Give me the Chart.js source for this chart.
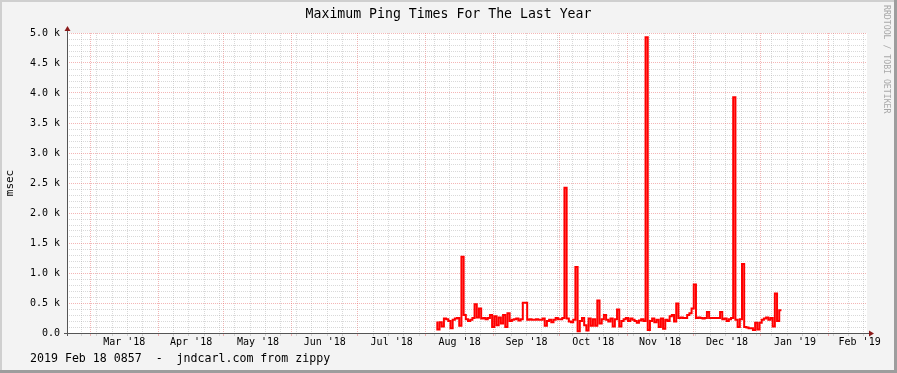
<!DOCTYPE html>
<html>
<head>
<meta charset="utf-8">
<script src="https://cdn.jsdelivr.net/npm/chart.js@4/dist/chart.umd.min.js"></script>
<style>
  html, body { margin: 0; padding: 0; background: #f3f3f3; }
  #wrap { width: 897px; height: 373px; }
</style>
</head>
<body>
<div id="wrap"><canvas id="chart" width="897" height="373"></canvas></div>
<script>
const title = "Maximum Ping Times For The Last Year";
const footer = "2019 Feb 18 0857  -  jndcarl.com from zippy";
const sideNote = "RRDTOOL / TOBI OETIKER";
const yLabel = "msec";

const DAY = 86400000;
const rangeStart = Date.UTC(2018, 1, 18, 8, 57);
const rangeEnd = Date.UTC(2019, 1, 18, 8, 57);
const firstSample = Date.UTC(2018, 7, 6, 8);

// daily maximum ping (msec), Aug 6 2018 onwards
const maxPing = [
  190, 60, 180, 110, 240, 230, 200, 80, 220, 240, 250, 120, 1270, 300, 230, 200, 220, 250, 480, 260,
  410, 240, 250, 230, 250, 300, 100, 280, 130, 260, 160, 300, 100, 330, 200, 220, 230, 240, 210, 230,
  505, 505, 220, 230, 220, 220, 230, 220, 220, 240, 120, 200, 220, 180, 220, 250, 230, 230, 250, 2420,
  240, 190, 180, 220, 1100, 30, 200, 250, 130, 40, 240, 120, 230, 120, 540, 160, 230, 300, 220, 190,
  240, 110, 230, 390, 110, 200, 230, 250, 200, 240, 220, 200, 170, 210, 230, 200, 4930, 50, 200, 240,
  180, 220, 100, 240, 70, 220, 200, 280, 300, 190, 490, 250, 260, 250, 250, 300, 330, 410, 810, 250,
  260, 250, 240, 250, 350, 250, 250, 250, 250, 250, 350, 230, 240, 200, 230, 250, 3930, 220, 100, 230,
  1150, 100, 90, 80, 80, 50, 170, 60, 170, 220, 240, 260, 220, 250, 110, 660, 200, 380,
];

const monthNames = ["Jan", "Feb", "Mar", "Apr", "May", "Jun", "Jul", "Aug", "Sep", "Oct", "Nov", "Dec"];
const yMax = 5000;
const yStep = 100;
const yMajor = 500;

const MONO = "'DejaVu Sans Mono', 'Liberation Mono', monospace";
const MINOR = "rgba(160, 160, 160, 0.4)";
const MAJOR = "rgba(230, 90, 90, 0.45)";

const points = maxPing.map((v, i) => ({ x: firstSample + i * DAY, y: v }));

const buildXTicks = () => {
  const ticks = [];
  // month boundaries and mid-month labels
  for (let m = 1; m <= 13; m++) {
    const start = Date.UTC(2018, m, 1);
    const next = Date.UTC(2018, m + 1, 1);
    const d = new Date(start);
    if (start > rangeStart && start < rangeEnd) ticks.push({ value: start, kind: "month" });
    const mid = (start + next) / 2;
    if (mid > rangeStart && mid < rangeEnd) {
      ticks.push({
        value: mid,
        kind: "label",
        text: monthNames[d.getUTCMonth()] + " '" + String(d.getUTCFullYear()).slice(2),
      });
    }
  }
  // weekly lines on Sundays
  for (let t = Date.UTC(2018, 1, 25); t < rangeEnd; t += 7 * DAY) {
    if (new Date(t).getUTCDate() !== 1) ticks.push({ value: t, kind: "week" });
  }
  return ticks.sort((a, b) => a.value - b.value);
};

const buildYTicks = () => {
  const ticks = [];
  for (let v = 0; v <= yMax; v += yStep) ticks.push({ value: v });
  return ticks;
};

const rrdFrame = {
  id: "rrdFrame",
  beforeDraw(chart) {
    const { ctx, chartArea: a, width, height } = chart;
    ctx.save();
    ctx.fillStyle = "#f3f3f3";
    ctx.fillRect(0, 0, width, height);
    ctx.fillStyle = "#cfcfcf";
    ctx.fillRect(0, 0, width, 2);
    ctx.fillRect(0, 0, 2, height);
    ctx.fillStyle = "#9d9d9d";
    ctx.fillRect(width - 3, 0, 3, height);
    ctx.fillRect(0, height - 3, width, 3);
    ctx.fillStyle = "#ffffff";
    ctx.fillRect(a.left, a.top, a.right - a.left, a.bottom - a.top);
    ctx.restore();
  },
  afterDraw(chart) {
    const { ctx, chartArea: a, width } = chart;
    ctx.save();
    // axes
    ctx.strokeStyle = "#555555";
    ctx.lineWidth = 1;
    ctx.beginPath();
    ctx.moveTo(a.left + 0.5, a.bottom + 3);
    ctx.lineTo(a.left + 0.5, a.top - 4);
    ctx.moveTo(a.left - 3, a.bottom + 0.5);
    ctx.lineTo(a.right + 3, a.bottom + 0.5);
    ctx.stroke();
    // arrows
    ctx.fillStyle = "#8b1a1a";
    ctx.beginPath();
    ctx.moveTo(a.left - 2.5, a.top - 2);
    ctx.lineTo(a.left + 3.5, a.top - 2);
    ctx.lineTo(a.left + 0.5, a.top - 7);
    ctx.closePath();
    ctx.fill();
    ctx.beginPath();
    ctx.moveTo(a.right + 2, a.bottom - 2.5);
    ctx.lineTo(a.right + 2, a.bottom + 3.5);
    ctx.lineTo(a.right + 7, a.bottom + 0.5);
    ctx.closePath();
    ctx.fill();
    // title
    ctx.fillStyle = "#000000";
    ctx.textBaseline = "middle";
    ctx.textAlign = "center";
    ctx.font = "13.2px " + MONO;
    ctx.fillText(title, width / 2, 14.5);
    // footer
    ctx.font = "11.6px " + MONO;
    ctx.textAlign = "left";
    ctx.fillText(footer, 30, 359);
    // side note
    ctx.translate(width - 11, 5);
    ctx.rotate(Math.PI / 2);
    ctx.fillStyle = "#a8a8a8";
    ctx.font = "8.2px " + MONO;
    ctx.fillText(sideNote, 0, 0);
    ctx.restore();
  },
};

new Chart(document.getElementById("chart"), {
  type: "line",
  data: {
    datasets: [
      {
        data: points,
        borderColor: "#ff0000",
        borderWidth: 2,
        pointRadius: 0,
        stepped: "after",
        fill: false,
      },
    ],
  },
  options: {
    responsive: false,
    animation: false,
    devicePixelRatio: 1,
    layout: {
      padding: { left: 0, right: 30, top: 33, bottom: 0 },
    },
    plugins: {
      legend: { display: false },
      tooltip: { enabled: false },
    },
    scales: {
      x: {
        type: "linear",
        min: rangeStart,
        max: rangeEnd,
        afterBuildTicks: (scale) => {
          scale.ticks = buildXTicks();
        },
        afterFit: (scale) => {
          scale.height = 40;
        },
        border: { display: false, dash: [1, 1] },
        grid: {
          color: (c) => {
            if (!c.tick) return MINOR;
            if (c.tick.kind === "month") return MAJOR;
            if (c.tick.kind === "week") return MINOR;
            return "rgba(0,0,0,0)";
          },
          lineWidth: 1,
          drawTicks: true,
          tickLength: 3,
        },
        ticks: {
          autoSkip: false,
          maxRotation: 0,
          padding: 0,
          color: "#000000",
          font: { family: MONO, size: 10 },
          callback: (v, i, ticks) => (ticks[i].kind === "label" ? ticks[i].text : ""),
        },
      },
      y: {
        min: 0,
        max: yMax,
        afterBuildTicks: (scale) => {
          scale.ticks = buildYTicks();
        },
        afterFit: (scale) => {
          scale.width = 67;
        },
        border: { display: false, dash: [1, 1] },
        grid: {
          color: (c) => (c.tick && c.tick.value % yMajor === 0 ? MAJOR : MINOR),
          lineWidth: 1,
          drawTicks: false,
        },
        title: {
          display: true,
          text: yLabel,
          color: "#000000",
          font: { family: MONO, size: 11 },
          padding: { top: 4, bottom: 0 },
        },
        ticks: {
          autoSkip: false,
          padding: 7,
          color: "#000000",
          font: { family: MONO, size: 10 },
          callback: (v) => {
            if (v % yMajor !== 0) return "";
            return v === 0 ? "0.0" : (v / 1000).toFixed(1) + " k";
          },
        },
      },
    },
  },
  plugins: [rrdFrame],
});
</script>
</body>
</html>
